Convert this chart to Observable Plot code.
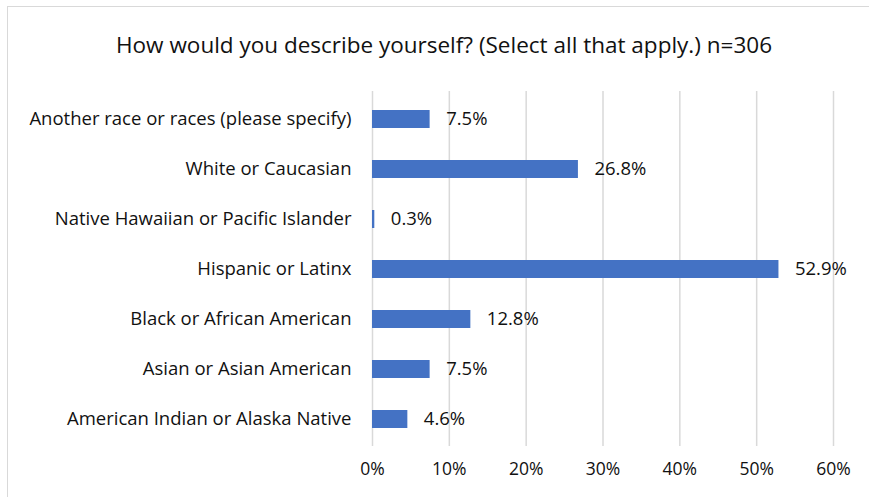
<!DOCTYPE html>
<html>
<head>
<meta charset="utf-8">
<script src="https://cdn.jsdelivr.net/npm/d3@7"></script>
<script src="https://cdn.jsdelivr.net/npm/@observablehq/plot@0.6"></script>
<style>
  html, body { margin: 0; padding: 0; background: #fff; }
  #wrap { position: relative; width: 869px; height: 497px; overflow: hidden; background: #fff; }
  #border { position: absolute; left: 7px; top: 6px; width: 900px; height: 600px; border: 1.5px solid #d9d9d9; box-sizing: border-box; }
  #title { position: absolute; left: 0; top: 0; width: 888px; height: 80px; line-height: 90px; text-align: center;
           font-family: "Open Sans", sans-serif; font-size: 22.5px; color: #111; }
  #chart { position: absolute; left: 0; top: 80px; }
  #chart svg g[aria-label="y-axis tick label"] text { font-size: 18.5px; }
</style>
</head>
<body>
<div id="wrap">
  <div id="border"></div>
  <div id="title">How would you describe yourself? (Select all that apply.) n=306</div>
  <div id="chart"></div>
</div>
<script>
const categories = [
  "Another race or races (please specify)",
  "White or Caucasian",
  "Native Hawaiian or Pacific Islander",
  "Hispanic or Latinx",
  "Black or African American",
  "Asian or Asian American",
  "American Indian or Alaska Native"
];
const values = [7.5, 26.8, 0.3, 52.9, 12.8, 7.5, 4.6];
const xTicks = [0, 10, 20, 30, 40, 50, 60];

const data = categories.map((c, i) => ({category: c, value: values[i]}));

const chart = Plot.plot({
  width: 869,
  height: 417,
  marginLeft: 372,
  marginRight: 36,
  marginTop: 11,
  marginBottom: 51,
  style: {fontFamily: "'Open Sans', sans-serif", fontSize: "17.5px", color: "#111", background: "transparent"},
  x: {domain: [0, 60], ticks: xTicks, tickFormat: d => d + "%", tickSize: 0, tickPadding: 16, label: null},
  y: {domain: categories, paddingInner: 0.645, paddingOuter: 0.3225, tickSize: 0, tickPadding: 21, label: null},
  marks: [
    Plot.ruleX(xTicks, {stroke: "#d9d9d9", strokeWidth: 1.5}),
    Plot.barX(data, {x: "value", y: "category", fill: "#4472c4"}),
    Plot.axisY({tickSize: 0, tickPadding: 21, fontSize: 18.5}),
    Plot.text(data, {x: "value", y: "category", text: d => d.value.toFixed(1) + "%", textAnchor: "start", dx: 16, fill: "#111", fontSize: 18.5})
  ]
});
document.getElementById("chart").appendChild(chart);
</script>
</body>
</html>
